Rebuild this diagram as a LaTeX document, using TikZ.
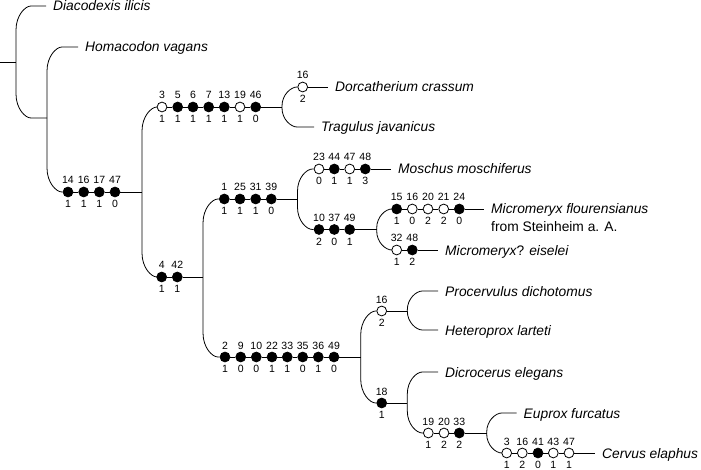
\documentclass[tikz,border=0pt]{standalone}
\usepackage{fontspec}
\setmainfont{Liberation Sans}
\usepackage{tikz}
\tikzstyle{apo} = [circle, draw, fill=black, line width=0.8pt, minimum size=9.8pt, inner sep=0pt]
\tikzstyle{homo} = [circle, draw, fill=white, line width=0.8pt, minimum size=9.8pt, inner sep=0pt]
\tikzstyle{taxon} = [anchor=west, inner xsep=7pt, inner ysep=0pt, text height=10pt, text depth=0pt, font=\fontsize{13.8}{16}\selectfont\itshape]
\tikzstyle{num} = [inner sep=0pt, text height=7.6pt, text depth=0pt, font=\fontsize{10.5}{12}\selectfont]
\tikzstyle{stem} = [draw, line width=0.8pt]
\tikzstyle{branch} = [draw, line width=0.8pt]
\tikzset{st/.style 2 args={label={[num]above:#1}, label={[num]below:#2}}}
% arm of a split: up the junction, bend round into the child
\tikzset{arm/.style={to path={-- ([yshift=#1]\tikztostart |- \tikztotarget)
  .. controls ([yshift=#1*0.4]\tikztostart |- \tikztotarget) and ([xshift=15pt*0.6]\tikztostart |- \tikztotarget)
  .. ([xshift=15pt]\tikztostart |- \tikztotarget) -- (\tikztotarget)}}}

\begin{document}
\begin{tikzpicture}[x=1pt, y=-1pt, label distance=2.5pt]
\useasboundingbox (0,0) rectangle (701,470);

%% outgroups
\coordinate (root) at (0,62);
\coordinate (jR) at (16,62);
\coordinate (jA) at (47,118);
\node[taxon] at (46,6) (diacodexis) {Diacodexis ilicis};
\node[taxon] at (78,47) (homacodon) {Homacodon vagans};

%% ruminants
\node[apo, st={14}{1}] at (68,192) (b14) {};
\node[apo, st={16}{1}] at (83.7,192) (b16) {};
\node[apo, st={17}{1}] at (99.3,192) (b17) {};
\node[apo, st={47}{0}] at (115,192) (b47) {};
\coordinate (jB) at (142,192);

%% tragulids
\node[homo, st={3}{1}] at (162,107) (c3) {};
\node[apo, st={5}{1}] at (177.7,107) (c5) {};
\node[apo, st={6}{1}] at (193,107) (c6) {};
\node[apo, st={7}{1}] at (208.7,107) (c7) {};
\node[apo, st={13}{1}] at (224.3,107) (c13) {};
\node[homo, st={19}{1}] at (240,107) (c19) {};
\node[apo, st={46}{0}] at (255.7,107) (c46) {};
\coordinate (jC) at (282,107);
\node[homo, st={16}{2}] at (302.7,87) (dc16) {};
\node[taxon] at (328,87) (dorcatherium) {Dorcatherium crassum};
\node[taxon] at (314,127) (tragulus) {Tragulus javanicus};

%% pecorans
\node[apo, st={4}{1}] at (161.7,277) (d4) {};
\node[apo, st={42}{1}] at (177.3,277) (d42) {};
\coordinate (jD) at (203,277);

%% moschids
\node[apo, st={1}{1}] at (224.3,199) (e1) {};
\node[apo, st={25}{1}] at (240,199) (e25) {};
\node[apo, st={31}{1}] at (255.7,199) (e31) {};
\node[apo, st={39}{0}] at (271.3,199) (e39) {};
\coordinate (jE) at (297.5,199);

\node[homo, st={23}{0}] at (319,169) (f23) {};
\node[apo, st={44}{1}] at (334.3,169) (f44) {};
\node[homo, st={47}{1}] at (349.7,169) (f47) {};
\node[apo, st={48}{3}] at (365.3,169) (f48) {};
\node[taxon] at (391,169) (moschus) {Moschus moschiferus};

\node[apo, st={10}{2}] at (319,229.5) (g10) {};
\node[apo, st={37}{0}] at (334.3,229.5) (g37) {};
\node[apo, st={49}{1}] at (349.7,229.5) (g49) {};
\coordinate (jG) at (376.7,229.5);

\node[apo, st={15}{1}] at (396.7,209) (h15) {};
\node[homo, st={16}{0}] at (412.3,209) (h16) {};
\node[homo, st={20}{2}] at (428,209) (h20) {};
\node[homo, st={21}{2}] at (443.7,209) (h21) {};
\node[apo, st={24}{0}] at (459.3,209) (h24) {};
\node[taxon] at (484,209) (mflour) {Micromeryx flourensianus};
\node[taxon, font=\fontsize{13.8}{16}\selectfont] at ([yshift=-17.5pt]mflour.west) (mflour2) {from Steinheim a. A.};

\node[homo, st={32}{1}] at (396.7,250) (i32) {};
\node[apo, st={48}{2}] at (412.3,250) (i48) {};
\node[taxon] at (438,250) (meiselei) {Micromeryx{\upshape?} eiselei};

%% cervoids
\node[apo, st={2}{1}] at (225,357) (j2) {};
\node[apo, st={9}{0}] at (240.7,357) (j9) {};
\node[apo, st={10}{0}] at (256.3,357) (j10) {};
\node[apo, st={22}{1}] at (272,357) (j22) {};
\node[apo, st={33}{1}] at (287.3,357) (j33) {};
\node[apo, st={35}{0}] at (302.7,357) (j35) {};
\node[apo, st={36}{1}] at (318.3,357) (j36) {};
\node[apo, st={49}{0}] at (334,357) (j49) {};
\coordinate (jJ) at (360.7,357);

\node[homo, st={16}{2}] at (381.7,311) (k16) {};
\coordinate (jK) at (407.3,311);
\node[taxon] at (438,291) (procervulus) {Procervulus dichotomus};
\node[taxon] at (438,330) (heteroprox) {Heteroprox larteti};

\node[apo, st={18}{1}] at (381.7,403) (l18) {};
\coordinate (jL) at (407.3,403);
\node[taxon] at (438,372) (dicrocerus) {Dicrocerus elegans};

\node[homo, st={19}{1}] at (428.3,433) (m19) {};
\node[homo, st={20}{2}] at (444,433) (m20) {};
\node[apo, st={33}{2}] at (459.3,433) (m33) {};
\coordinate (jM) at (486.7,433);
\node[taxon] at (516.5,413) (euprox) {Euprox furcatus};

\node[homo, st={3}{1}] at (506.7,453) (n3) {};
\node[homo, st={16}{2}] at (522.3,453) (n16) {};
\node[apo, st={41}{0}] at (538,453) (n41) {};
\node[homo, st={43}{1}] at (553.3,453) (n43) {};
\node[homo, st={47}{1}] at (569,453) (n47) {};
\node[taxon] at (595,453) (cervus) {Cervus elaphus};

%% stems
\path[stem] (root) -- (jR);
\path[stem] (b14) -- (b16) -- (b17) -- (b47) -- (jB);
\path[stem] (c3) -- (c5) -- (c6) -- (c7) -- (c13) -- (c19) -- (c46) -- (jC);
\path[stem] (dc16) -- (dorcatherium);
\path[stem] (d4) -- (d42) -- (jD);
\path[stem] (e1) -- (e25) -- (e31) -- (e39) -- (jE);
\path[stem] (f23) -- (f44) -- (f47) -- (f48) -- (moschus);
\path[stem] (g10) -- (g37) -- (g49) -- (jG);
\path[stem] (h15) -- (h16) -- (h20) -- (h21) -- (h24) -- (mflour);
\path[stem] (i32) -- (i48) -- (meiselei);
\path[stem] (j2) -- (j9) -- (j10) -- (j22) -- (j33) -- (j35) -- (j36) -- (j49) -- (jJ);
\path[stem] (k16) -- (jK);
\path[stem] (l18) -- (jL);
\path[stem] (m19) -- (m20) -- (m33) -- (jM);
\path[stem] (n3) -- (n16) -- (n41) -- (n43) -- (n47) -- (cervus);

%% splits
\path[branch] (jR) to[arm=-24pt] (diacodexis) (jR) to[arm=24pt] (jA);
\path[branch] (jA) to[arm=-24pt] (homacodon) (jA) to[arm=24pt] (b14);
\path[branch] (jB) to[arm=-24pt] (c3) (jB) to[arm=24pt] (d4);
\path[branch] (jC) to[arm=-19pt] (dc16) (jC) to[arm=19pt] (tragulus);
\path[branch] (jD) to[arm=-24pt] (e1) (jD) to[arm=24pt] (j2);
\path[branch] (jE) to[arm=-22pt] (f23) (jE) to[arm=22pt] (g10);
\path[branch] (jG) to[arm=-19pt] (h15) (jG) to[arm=19pt] (i32);
\path[branch] (jJ) to[arm=-24pt] (k16) (jJ) to[arm=24pt] (l18);
\path[branch] (jK) to[arm=-19pt] (procervulus) (jK) to[arm=19pt] (heteroprox);
\path[branch] (jL) to[arm=-22pt] (dicrocerus) (jL) to[arm=22pt] (m19);
\path[branch] (jM) to[arm=-19pt] (euprox) (jM) to[arm=19pt] (n3);

\end{tikzpicture}
\end{document}
